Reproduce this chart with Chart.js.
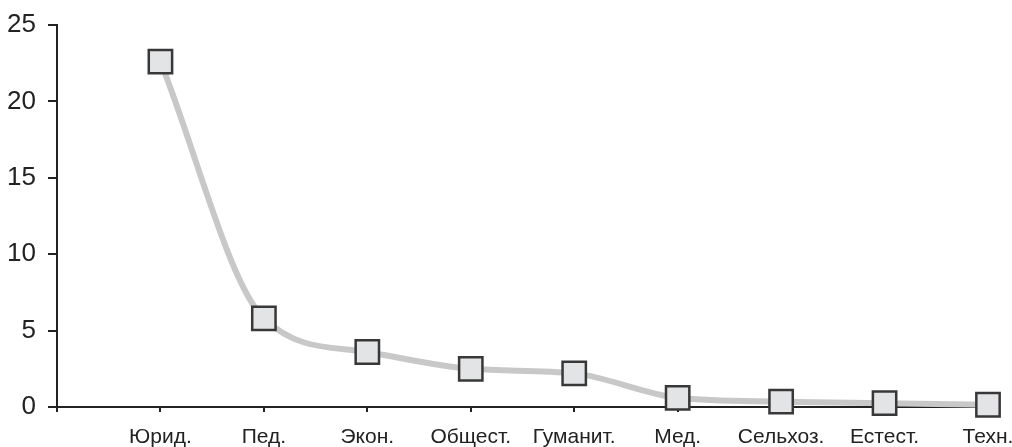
<!DOCTYPE html>
<html><head><meta charset="utf-8">
<script src="https://cdn.jsdelivr.net/npm/chart.js@4"></script>
<style>html,body{margin:0;padding:0;background:#fff}#w{width:1012px;height:447px}</style>
</head><body><div id="w"><canvas id="c"></canvas></div>
<script>
const categories = ["", "Юрид.", "Пед.", "Экон.", "Общест.", "Гуманит.", "Мед.", "Сельхоз.", "Естест.", "Техн."];
const values = [null, 22.6, 5.8, 3.6, 2.5, 2.2, 0.6, 0.35, 0.25, 0.15];
const yTicks = [0, 5, 10, 15, 20, 25];

new Chart(document.getElementById('c'), {
  type: 'line',
  data: { labels: categories, datasets: [{
    data: values, clip: false,
    borderColor: '#c8c8c8', borderWidth: 6, cubicInterpolationMode: 'monotone',
    pointStyle: 'rect', pointRadius: 16.5, pointHoverRadius: 16.5,
    pointBackgroundColor: '#e3e4e6', pointBorderColor: '#383838', pointBorderWidth: 2.5
  }]},
  options: {
    responsive: true, maintainAspectRatio: false, animation: false,
    layout: { padding: { top: 25, right: 24, left: 0, bottom: 0 } },
    plugins: { legend: { display: false }, tooltip: { enabled: false } },
    scales: {
      x: {
        offset: false,
        border: { color: '#222', width: 2 },
        grid: { drawOnChartArea: false, drawTicks: true, tickLength: 5, color: '#222', lineWidth: 2 },
        ticks: { color: '#222', font: { family: 'Liberation Sans, Arial', size: 21 }, padding: 13, maxRotation: 0, autoSkip: false },
        afterFit: s => { s.height = 40; s.paddingLeft = 0; s.paddingRight = 0; }
      },
      y: {
        min: 0, max: 25,
        afterBuildTicks: s => { s.ticks = yTicks.map(v => ({ value: v })); },
        border: { color: '#222', width: 2 },
        grid: { drawOnChartArea: false, drawTicks: true, tickLength: 9, color: '#222', lineWidth: 2 },
        ticks: { color: '#222', font: { family: 'Liberation Sans, Arial', size: 26 }, padding: 12 },
        afterFit: s => { s.width = 57; s.paddingTop = 0; s.paddingBottom = 0; }
      }
    }
  }
});
</script></body></html>
